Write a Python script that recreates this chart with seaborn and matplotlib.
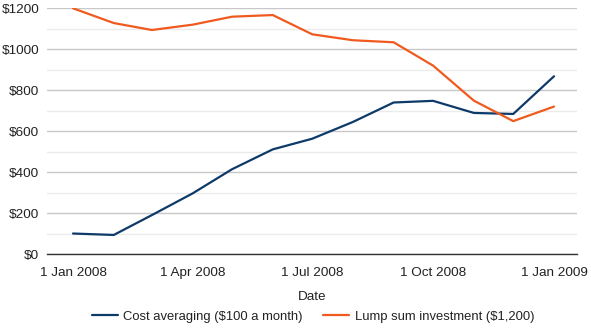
import matplotlib
matplotlib.use("Agg")
import matplotlib.pyplot as plt
from matplotlib.ticker import MultipleLocator, FuncFormatter
import pandas as pd
import seaborn as sns

# Monthly portfolio values through 2008
months = pd.date_range("2008-01-01", "2009-01-01", freq="MS")
cost_averaging = [100, 93, 190, 296, 414, 511, 563, 645, 740, 748, 689, 684, 868]
lump_sum = [1200, 1128, 1094, 1120, 1159, 1167, 1073, 1044, 1034, 920, 749, 649, 720]
series_names = ["Cost averaging ($100 a month)", "Lump sum investment ($1,200)"]
series_colors = ["#0e3a6a", "#f05a1e"]
tick_dates = ["2008-01-01", "2008-04-01", "2008-07-01", "2008-10-01", "2009-01-01"]
tick_labels = ["1 Jan 2008", "1 Apr 2008", "1 Jul 2008", "1 Oct 2008", "1 Jan 2009"]

df = pd.concat([
    pd.DataFrame({"Date": months, "Value": cost_averaging, "Series": series_names[0]}),
    pd.DataFrame({"Date": months, "Value": lump_sum, "Series": series_names[1]}),
])

sns.set_theme(style="white")
plt.rcParams["font.family"] = ["Liberation Sans", "DejaVu Sans"]
fs = 9.7
legend_fs = 9.35
text_color = "#222222"

fig = plt.figure(figsize=(5.91, 3.28), dpi=100)
ax = fig.add_axes([47 / 591, 1 - 254 / 328, 530 / 591, (254 - 8.3) / 328])

sns.lineplot(data=df, x="Date", y="Value", hue="Series",
             palette=dict(zip(series_names, series_colors)),
             linewidth=1.6, ax=ax, legend=True)

ax.set_ylim(0, 1200)
ax.set_xlim(pd.Timestamp("2008-01-01") - pd.Timedelta(days=19.8),
            pd.Timestamp("2009-01-01") + pd.Timedelta(days=17.5))

ax.yaxis.set_major_locator(MultipleLocator(200))
ax.yaxis.set_minor_locator(MultipleLocator(100))
ax.yaxis.set_major_formatter(FuncFormatter(lambda v, p: f"${int(v)}"))
ax.grid(which="major", axis="y", color="#c8c8c8", linewidth=1.0)
ax.grid(which="minor", axis="y", color="#ebebeb", linewidth=1.0)
ax.grid(False, axis="x")
ax.set_axisbelow(True)

ax.set_xticks(pd.to_datetime(tick_dates))
ax.set_xticklabels(tick_labels)

for side in ["top", "right", "left"]:
    ax.spines[side].set_visible(False)
ax.spines["bottom"].set_color("#333333")
ax.spines["bottom"].set_linewidth(1.0)

ax.tick_params(axis="both", which="both", length=0, labelsize=fs, labelcolor=text_color)
ax.tick_params(axis="y", pad=5.5)
ax.tick_params(axis="x", pad=9.5)
ax.set_ylabel("")
ax.set_xlabel("Date", fontsize=fs, color=text_color, labelpad=8.5)

handles, labels = ax.get_legend_handles_labels()
ax.legend_.remove()
fig.legend(handles, labels, loc="center", bbox_to_anchor=(313 / 591, 1 - 316.5 / 328),
           ncol=2, frameon=False, fontsize=legend_fs, handlelength=2.0, handletextpad=0.4,
           columnspacing=1.6, labelcolor=text_color, borderpad=0)

fig.savefig("out.png", dpi=100)
